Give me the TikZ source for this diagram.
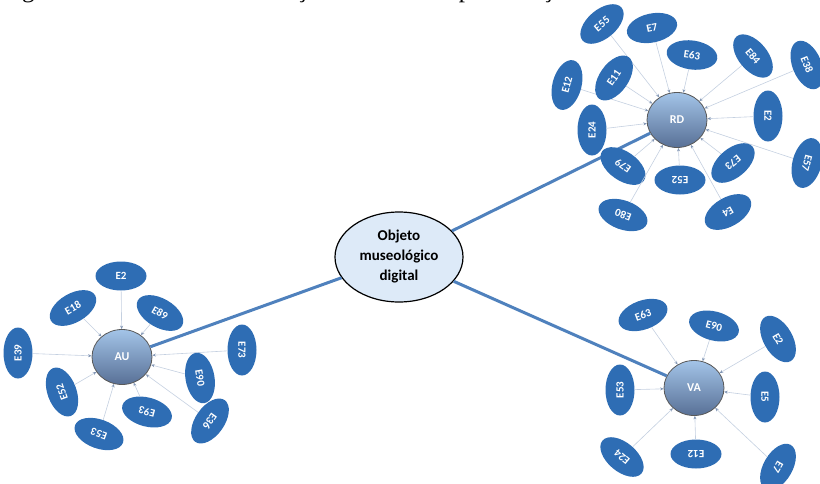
\documentclass[tikz,border=0pt]{standalone}
\usepackage{fontspec}
\setmainfont{Liberation Serif}
\newfontfamily\calibri{Carlito}
\usetikzlibrary{shapes.geometric, arrows.meta}

\definecolor{satblue}{RGB}{46,109,180}
\definecolor{hubline}{RGB}{79,129,189}
\definecolor{linkgrey}{RGB}{196,208,224}
\definecolor{tipgrey}{RGB}{130,150,180}
\definecolor{hubfill}{RGB}{221,234,248}
\definecolor{ballTop}{RGB}{163,196,232}
\definecolor{ballBottom}{RGB}{88,112,150}

\begin{document}
\begin{tikzpicture}[x=1pt, y=-1pt,
    sat/.style={ellipse, fill=satblue, text=white, minimum width=51pt, minimum height=29pt,
        inner sep=0pt, font=\calibri\bfseries\fontsize{11}{13}\selectfont},
    ball/.style={ellipse, draw=black!65, line width=0.8pt, top color=ballTop, bottom color=ballBottom,
        minimum width=60pt, minimum height=55pt, text=white, font=\calibri\bfseries\fontsize{12}{14}\selectfont},
    hub/.style={ellipse, draw=black, line width=1.2pt, fill=hubfill, minimum width=128pt, minimum height=90pt,
        inner sep=0pt, align=center, font=\calibri\bfseries\fontsize{15}{20}\selectfont},
    link/.style={draw=linkgrey, line width=0.6pt, -{Stealth[length=3.5pt, width=3pt, color=tipgrey]}},
    spoke/.style={draw=hubline, line width=3pt}]
    \useasboundingbox (0,0) rectangle (820,483);
    \clip (0,0) rectangle (820,483);

    % Caption (cut off at the top)
    \node[anchor=south west, inner sep=0pt, font=\fontsize{25}{30}\selectfont] (caption) at (1,3)
        {\spaceskip=14pt\relax Figura 3 – Rede de avaliação da meta-representação};

    % Hub and the three groups
    \node[hub] (hub) at (399,257) {Objeto\\museológico\\digital};
    \node[ball] (rd) at (677,120) {RD};
    \node[ball] (au) at (122,357) {AU};
    \node[ball] (va) at (694,388) {VA};

    \draw[spoke] (hub) -- (rd);
    \draw[spoke] (hub) -- (au);
    \draw[spoke] (hub) -- (va);

    % RD items
    \foreach \l/\x/\y/\r in {E55/602/24/40, E7/652/28/12, E63/692/55/-8, E84/753/56/-50,
        E38/807/65/-68, E12/567/85/75, E11/614/78/55, E24/592/130/90, E2/768/116/-90,
        E57/807/163/-105, E73/733/163/-140, E52/680/180/180, E79/623/166/145,
        E80/623/215/160, E4/728/212/-150} {
        \node[sat, rotate=\r] (rd\l) at (\x,\y) {\l};
        \draw[link] (rd\l) -- (rd);
    }

    % AU items
    \foreach \l/\x/\y/\r in {E2/121/276/0, E18/73/308/30, E89/160/313/-30, E39/18/353/90,
        E73/242/350/-90, E52/62/392/110, E90/200/378/-80, E93/147/412/165,
        E53/99/434/160, E36/210/421/-125} {
        \node[sat, rotate=\r] (au\l) at (\x,\y) {\l};
        \draw[link] (au\l) -- (au);
    }

    % VA items
    \foreach \l/\x/\y/\r in {E63/643/315/20, E90/714/326/-15, E2/778/339/-60, E53/620/390/90,
        E5/765/397/-90, E24/622/457/140, E12/696/454/180, E7/778/467/-120} {
        \node[sat, rotate=\r] (va\l) at (\x,\y) {\l};
        \draw[link] (va\l) -- (va);
    }
\end{tikzpicture}
\end{document}
